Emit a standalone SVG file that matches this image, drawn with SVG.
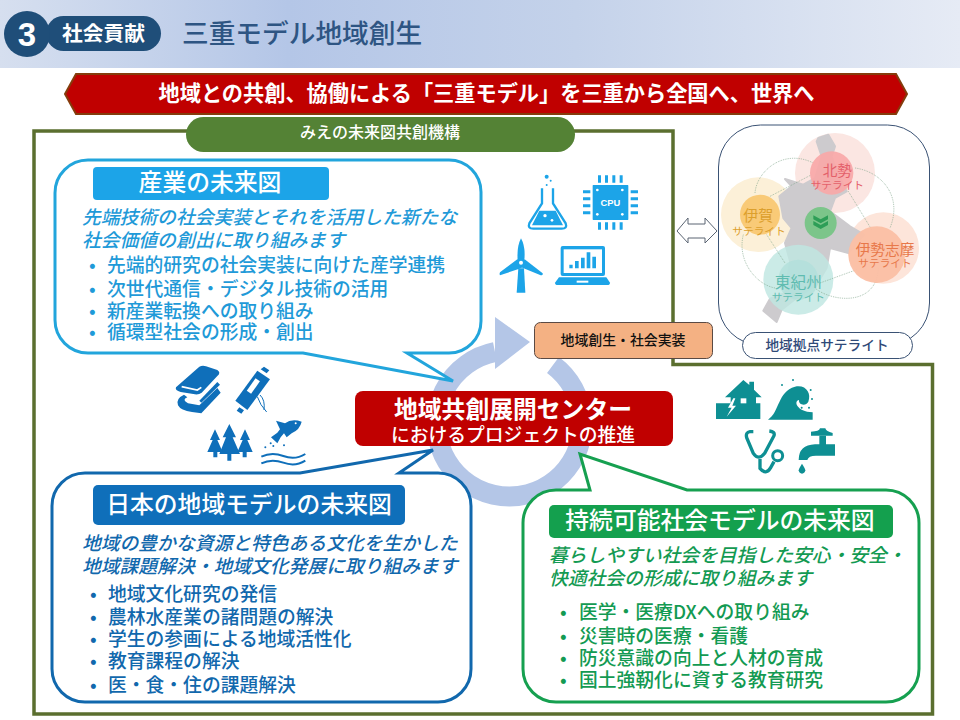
<svg xmlns="http://www.w3.org/2000/svg" width="960" height="720" viewBox="0 0 960 720">
<style>
text{font-family:"Noto Sans CJK JP","Noto Sans",sans-serif;font-weight:500}
.bub{fill:#fff;stroke-width:3}
.ttl{font-size:23.8px;fill:#fff;text-anchor:middle}
.it{font-size:18.8px;font-style:italic}
.bl{font-size:18.8px}
.cy{fill:#1f9ad8}.bu{fill:#1168ad}.gr{fill:#139a52}
.cyi{fill:#1ca4e8}.bui{fill:#0f6fba}.tei{fill:#0e8f93}
.sat{text-anchor:middle;font-weight:400}
.dot{fill:none;stroke:#7fa58a;stroke-width:2.200;stroke-dasharray:2.500 3}
</style>
<defs>
<linearGradient id="hd" x1="0" x2="1" y1="0" y2="0">
<stop offset="0" stop-color="#d6dfef"/><stop offset=".3" stop-color="#b4c6e7"/><stop offset=".6" stop-color="#c4d2ea"/><stop offset="1" stop-color="#e6ebf5"/>
</linearGradient>
</defs>
<rect width="960" height="720" fill="#fff"/>
<g id="header">
<rect width="960" height="68" fill="url(#hd)"/>
<rect x="46" y="16" width="115" height="35" rx="17.5" fill="#1f4e79"/>
<circle cx="27" cy="34" r="23" fill="#1f4e79"/>
<text x="27" y="46" text-anchor="middle" fill="#fff" style="font-family:'Liberation Sans',sans-serif;font-weight:700;font-size:33px">3</text>
<text x="103.500" y="41" text-anchor="middle" fill="#fff" font-size="20.700" style="font-weight:700">社会貢献</text>
<text x="182" y="43" fill="#2e5583" font-size="26.700">三重モデル地域創生</text>
</g>
<g id="banner">
<polygon points="65,94 76,74 896,74 907,94 896,114 76,114" fill="#c00000" stroke="#843c0c" stroke-width="2"/>
<text x="486.500" y="101" text-anchor="middle" fill="#fff" font-size="21.200" style="font-weight:700">地域との共創、協働による「三重モデル」を三重から全国へ、世界へ</text>
</g>
<g id="frame">
<polygon points="34,131 673,131 673,364.500 932.500,364.500 932.500,714 34,714" fill="#fff" stroke="#5b6f2f" stroke-width="3.500"/>
<rect x="186" y="117" width="389" height="35" rx="17.500" fill="#548235"/>
<text x="380" y="138" text-anchor="middle" fill="#fff" font-size="16">みえの未来図共創機構</text>
</g>
<g id="connectors">
<path d="M553 365 A73 73 0 1 1 495 352" fill="none" stroke="#b4c6e7" stroke-width="20"/>
<polygon points="495,317 530,342 495,369" fill="#b4c6e7"/>
<polygon points="677,231 688,218 688,224 705,224 705,218 717,231 705,243 705,238 688,238 688,243" fill="#fff" stroke="#5a6472" stroke-width="1"/>
</g>
<g id="industry">
<path class="bub" stroke="#22a5dc" d="M88 160 H449 A32 32 0 0 1 481 192 V321 A32 32 0 0 1 449 353 H407 L453 381 L303 353 H88 A33 33 0 0 1 55 320 V193 A33 33 0 0 1 88 160Z"/>
<rect x="93" y="167" width="236" height="33" rx="4" fill="#1ca4e8"/>
<text class="ttl" x="210" y="191">産業の未来図</text>
<text class="it cy" x="82" y="224">先端技術の社会実装とそれを活用した新たな</text>
<text class="it cy" x="82" y="247">社会価値の創出に取り組みます</text>
<g class="bl cy">
<text x="89" y="272">•</text><text x="107" y="272">先端的研究の社会実装に向けた産学連携</text>
<text x="89" y="296">•</text><text x="107" y="296">次世代通信・デジタル技術の活用</text>
<text x="89" y="318">•</text><text x="107" y="318">新産業転換への取り組み</text>
<text x="89" y="339">•</text><text x="107" y="339">循環型社会の形成・創出</text>
</g>
</g>
<g id="region">
<path class="bub" stroke="#1168ad" d="M85 473 H300 L433 450 L399 473 H438 A33 33 0 0 1 471 506 V669 A33 33 0 0 1 438 702 H85 A33 33 0 0 1 52 669 V506 A33 33 0 0 1 85 473Z"/>
<rect x="93" y="485" width="312" height="40" rx="5" fill="#0f6fba"/>
<text class="ttl" x="249" y="513">日本の地域モデルの未来図</text>
<text class="it bu" x="82" y="550">地域の豊かな資源と特色ある文化を生かした</text>
<text class="it bu" x="82" y="573">地域課題解決・地域文化発展に取り組みます</text>
<g class="bl bu">
<text x="90" y="601">•</text><text x="108" y="601">地域文化研究の発信</text>
<text x="90" y="624">•</text><text x="108" y="624">農林水産業の諸問題の解決</text>
<text x="90" y="646">•</text><text x="108" y="646">学生の参画による地域活性化</text>
<text x="90" y="668">•</text><text x="108" y="668">教育課程の解決</text>
<text x="90" y="692">•</text><text x="108" y="692">医・食・住の課題解決</text>
</g>
</g>
<g id="sustain">
<path class="bub" stroke="#16a050" d="M556 490 H590 L580 454 L687 490 H886 A33 33 0 0 1 919 523 V669 A33 33 0 0 1 886 702 H556 A33 33 0 0 1 523 669 V523 A33 33 0 0 1 556 490Z"/>
<rect x="549" y="505" width="344" height="33" rx="5" fill="#14a04e"/>
<text class="ttl" x="720" y="529">持続可能社会モデルの未来図</text>
<text class="it gr" x="549" y="562">暮らしやすい社会を目指した安心・安全・</text>
<text class="it gr" x="549" y="585">快適社会の形成に取り組みます</text>
<g class="bl gr">
<text x="560" y="619">•</text><text x="579" y="619">医学・医療DXへの取り組み</text>
<text x="560" y="643">•</text><text x="579" y="643">災害時の医療・看護</text>
<text x="560" y="665">•</text><text x="579" y="665">防災意識の向上と人材の育成</text>
<text x="560" y="687">•</text><text x="579" y="687">国土強靭化に資する教育研究</text>
</g>
</g>
<g id="center">
<rect x="355" y="391" width="318" height="55" rx="8" fill="#c00000"/>
<text x="513" y="418" text-anchor="middle" fill="#fff" font-size="23.800" style="font-weight:700">地域共創展開センター</text>
<text x="513" y="442" text-anchor="middle" fill="#fff" font-size="18.800">におけるプロジェクトの推進</text>
</g>
<g id="outcome">
<rect x="534.500" y="322.500" width="178" height="36" rx="6" fill="#f4b183" stroke="#5a4a44" stroke-width="1"/>
<text x="623" y="345" text-anchor="middle" fill="#111" font-size="13.900">地域創生・社会実装</text>
</g>
<g id="satellites">
<rect x="718.500" y="125" width="211" height="220" rx="42" fill="#fff" stroke="#3a5274" stroke-width="1"/>
<g transform="translate(720 128) scale(.33333)">
<circle cx="345" cy="135" r="120" fill="#fbe6e2"/>
<circle cx="115" cy="260" r="112" fill="#fcf0d8"/>
<circle cx="490" cy="360" r="107" fill="#fde5da"/>
<path fill="#cdcbce" stroke="#cdcbce" stroke-width="6" stroke-linejoin="round" d="M295 30 L325 20 L345 55 L335 85 L345 115 L380 190 L345 210 L330 250 L390 295 L432 320 L385 375 L330 360 L320 420 L290 470 L230 510 L185 545 L170 582 L130 548 L150 512 L195 495 L210 400 L195 345 L215 300 L190 270 L178 205 L215 175 L195 153 L250 170 L285 150 L305 85 L290 40Z"/>
<circle cx="235" cy="455" r="105" fill="#bfe6e2" opacity=".82"/>
<path class="dot" d="M105 195 C110 130 190 60 280 105"/>
<path class="dot" d="M150 205 L275 140"/>
<path class="dot" d="M405 120 C480 130 550 200 510 300"/>
<path class="dot" d="M385 190 L455 305"/>
<path class="dot" d="M70 320 C50 400 110 470 165 480"/>
<path class="dot" d="M140 320 L195 405"/>
<path class="dot" d="M300 465 L410 425"/>
<path class="dot" d="M285 480 C330 520 470 540 475 420"/>
<circle cx="335" cy="135" r="65" fill="#f9a8a8" opacity=".92"/>
<circle cx="120" cy="260" r="60" fill="#f9c76f" opacity=".92"/>
<circle cx="470" cy="380" r="85" fill="#fbbfa4" opacity=".95"/>
<circle cx="235" cy="455" r="60" fill="#b2e0db" opacity=".8"/>
<circle cx="302" cy="285" r="48" fill="#7cc58a"/>
<path fill="#2e9e57" d="M280 262 L302 274 L324 262 V274 L302 286 L280 274Z M280 279 L302 291 L324 279 V291 L302 303 L280 291Z"/>
<text class="sat" x="352" y="145" font-size="44" fill="#e4606a">北勢</text>
<text class="sat" x="352" y="182" font-size="32" fill="#e4606a">サテライト</text>
<text class="sat" x="115" y="278" font-size="45" fill="#dc9f2c">伊賀</text>
<text class="sat" x="117" y="322" font-size="32" fill="#dc9f2c">サテライト</text>
<text class="sat" x="495" y="381" font-size="44" fill="#e8784a">伊勢志摩</text>
<text class="sat" x="495" y="417" font-size="32" fill="#e8784a">サテライト</text>
<text class="sat" x="235" y="479" font-size="47" fill="#5fbcb0">東紀州</text>
<text class="sat" x="235" y="520" font-size="32" fill="#5fbcb0">サテライト</text>
</g>
<rect x="742.500" y="332.500" width="170" height="26" rx="13" fill="#fff" stroke="#3a5274" stroke-width="1"/>
<text x="827" y="350" text-anchor="middle" fill="#2f4a78" font-size="13.700">地域拠点サテライト</text>
</g>
<g id="icons-industry" transform="translate(490 160) scale(.33333)">
<g class="cyi">
<circle cx="170" cy="50" r="6"/><circle cx="182" cy="62" r="3"/><circle cx="170" cy="75" r="3"/>
<path d="M156 85 V130 L118 190 Q112 206 130 206 H215 Q233 206 227 190 L189 130 V85" fill="none" stroke="#1ca4e8" stroke-width="7"/>
<path d="M148 152 H197 L219 196 H126Z"/>
<circle cx="165" cy="167" r="5" fill="#fff"/><circle cx="186" cy="181" r="4" fill="#fff"/>
<rect x="308" y="75" width="107" height="105" rx="2"/>
<path d="M324 46h9v22h-9zM345 46h9v22h-9zM367 46h9v22h-9zM389 46h9v22h-9zM324 187h9v22h-9zM345 187h9v22h-9zM367 187h9v22h-9zM389 187h9v22h-9zM279 91h22v9h-22zM279 112h22v9h-22zM279 133h22v9h-22zM279 154h22v9h-22zM422 91h22v9h-22zM422 112h22v9h-22zM422 133h22v9h-22zM422 154h22v9h-22z"/>
<g fill="#fff"><circle cx="322" cy="90" r="4"/><circle cx="397" cy="90" r="4"/><circle cx="322" cy="163" r="4"/><circle cx="397" cy="163" r="4"/></g>
<text x="361" y="138" text-anchor="middle" fill="#fff" font-size="28" style="font-family:'Liberation Sans',sans-serif;font-weight:700">CPU</text>
<path d="M85 325 H102 L106 398 H80Z"/>
<path d="M83 300 Q80 260 93 235 Q107 260 103 300Z"/>
<path d="M82 298 L106 318 L88 326 L30 346 Q26 338 34 334Z"/>
<path d="M104 298 L158 340 Q160 346 152 346 L90 320Z"/>
<circle cx="93" cy="308" r="13"/><circle cx="93" cy="308" r="6" fill="#fff"/>
<rect x="212" y="258" width="133" height="90" rx="6"/>
<rect x="221" y="268" width="115" height="71" fill="#fff"/>
<path d="M238 314h10v11h-10zM255 303h11v22h-11zM273 293h11v32h-11zM290 277h11v48h-11zM307 290h11v35h-11z"/>
<path d="M207 352 H349 L360 368 Q360 375 352 375 H203 Q195 375 195 368Z"/>
<rect x="260" y="362" width="35" height="6" fill="#fff"/>
</g>
</g>
<g id="icons-region" transform="translate(160 350) scale(.33333)">
<g class="bui">
<path d="M48 112 L118 50 Q128 45 138 49 L172 60 Q184 68 172 78 L125 128 Q115 136 100 132 L62 126 Q44 122 48 112Z"/>
<path d="M65 110 L112 120 L124 112" fill="none" stroke="#fff" stroke-width="5"/>
<path d="M72 134 Q46 146 54 166 Q62 182 96 186 L124 190 L182 128 L172 114 L118 166 L84 160 Q64 150 82 142Z"/>
<path d="M118 152 L172 96 L180 104 L124 158Z"/>
<path d="M226 152 L292 62 L330 88 L262 180Z"/>
<path d="M302 58l10-8 16 11-8 9zM238 172l-8 10 14 9 8-10z"/>
<rect x="272" y="85" width="16" height="46" fill="#fff" transform="rotate(35 280 108)"/>
<path d="M292 140 Q300 165 320 186 M300 135 Q316 150 312 180" fill="none" stroke="#0f6fba" stroke-width="3"/>
<path d="M208 222 L228 262 H218 L240 312 H214 V332 H202 V312 H178 L198 262 H188Z"/>
<path d="M165 238 L180 270 H172 L188 306 H172 V322 H160 V306 H142 L158 270 H150Z"/>
<path d="M255 238 L240 270 H248 L232 306 H248 V322 H260 V306 H278 L262 270 H270Z"/>
<path d="M333 262 L352 248 L360 238 L348 212 L375 220 Q395 205 425 215 Q420 238 395 250 L380 262 L372 250 L362 262 L352 280Z"/>
<circle cx="407" cy="220" r="3" fill="#fff"/>
<circle cx="332" cy="280" r="3"/><circle cx="316" cy="292" r="3"/><circle cx="340" cy="288" r="3"/><circle cx="372" cy="286" r="3"/>
<path d="M304 320 Q335 305 370 318 T436 312 M304 340 Q335 325 370 338 T436 332" fill="none" stroke="#0f6fba" stroke-width="6"/>
</g>
</g>
<g id="icons-sustain" transform="translate(700 365) scale(.33333)">
<g class="tei">
<path d="M130 45 L148 60 V50 H162 V74 L185 97 H168 V115 H181 V162 H48 V115 H92 V97 H75Z"/>
<rect x="122" y="100" width="17" height="15" fill="#fff"/>
<path d="M100 100 L84 128 L95 128 L80 155 L108 122 L97 122 L106 100Z" fill="#fff"/>
<path d="M204 164 C240 140 232 80 285 65 C318 58 335 85 325 110 C318 125 295 120 297 105 C280 108 290 140 338 142 V164Z"/>
<g><circle cx="246" cy="60" r="3"/><circle cx="279" cy="45" r="3"/><circle cx="332" cy="75" r="3"/><circle cx="336" cy="102" r="3"/><circle cx="305" cy="128" r="3"/><circle cx="327" cy="128" r="3"/></g>
<path d="M160 200 H150 Q136 202 140 218 L160 265 Q176 288 194 265 L222 212 Q226 200 208 198 M180 282 V310 Q198 332 212 308 L222 290" fill="none" stroke="#0e8f93" stroke-width="10"/>
<circle cx="233" cy="272" r="15" fill="none" stroke="#0e8f93" stroke-width="9"/>
<path d="M333 200 Q358 200 360 190 H376 Q378 200 398 204 V212 H333Z"/>
<path d="M358 212 H378 V238 H405 V272 H348 Q325 272 322 285 H296 Q296 240 345 238 H358Z"/>
<path d="M306 296 Q296 312 296 316 Q298 326 306 326 Q314 326 316 316 Q316 312 306 296Z"/>
</g>
</g>
</svg>
